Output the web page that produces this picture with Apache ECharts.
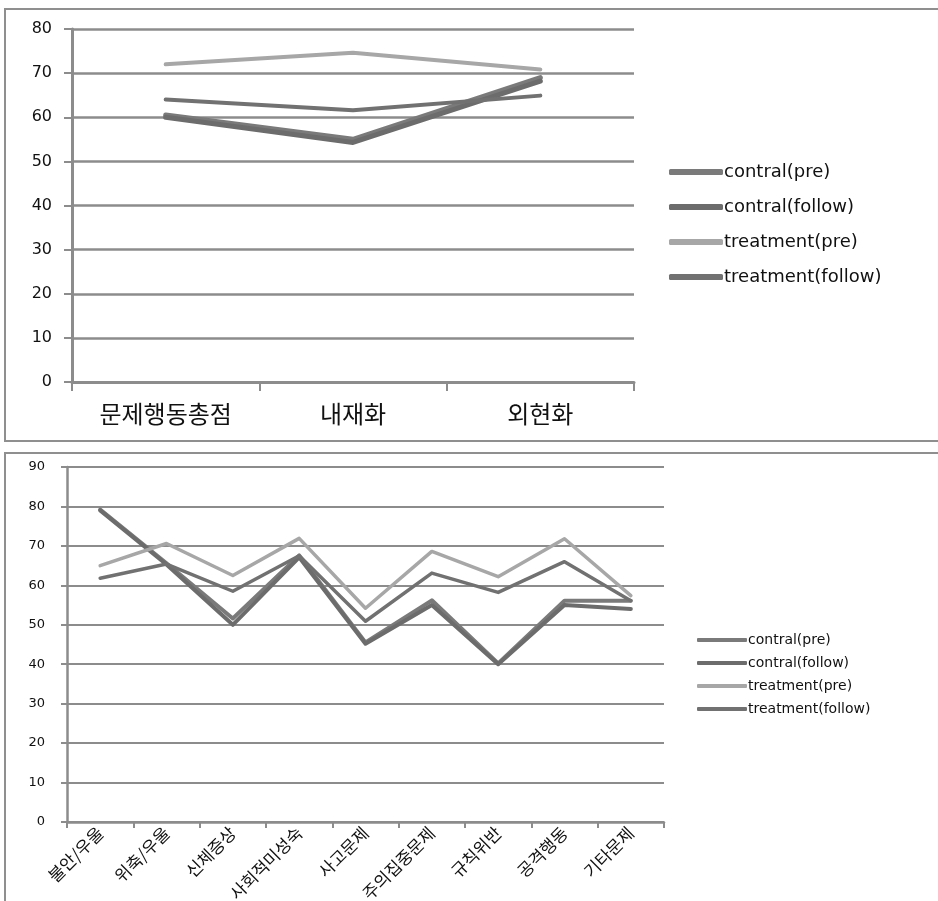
<!DOCTYPE html>
<html>
<head>
<meta charset="utf-8">
<script src="https://cdn.jsdelivr.net/npm/echarts@6/dist/echarts.min.js"></script>
<style>
  html, body { margin: 0; padding: 0; background: #fff; width: 938px; height: 901px; overflow: hidden; position: relative; }
  .panel { position: absolute; border: 2px solid #8f8f8f; background: #fff; }
  #top { left: 4px; top: 8px; width: 940px; height: 430px; }
  #bottom { left: 4px; top: 452px; width: 940px; height: 460px; }
</style>
</head>
<body>
<div id="top" class="panel"></div>
<div id="bottom" class="panel"></div>
<script>
// Series names shared by both panels
const seriesNames = ['contral(pre)', 'contral(follow)', 'treatment(pre)', 'treatment(follow)'];
const seriesColors = ['#7a7a7a', '#6c6c6c', '#a7a7a7', '#717171'];

// Upper panel: total score, internalizing, externalizing
const totalCategories = ['문제행동총점', '내재화', '외현화'];
const totalControlPre = [60.5, 55.0, 69.0];
const totalControlFollow = [60.0, 54.3, 68.2];
const totalTreatmentPre = [72.0, 74.6, 70.8];
const totalTreatmentFollow = [64.0, 61.6, 64.9];
const totalTicks = [0, 10, 20, 30, 40, 50, 60, 70, 80];

// Lower panel: subscales
const subCategories = ['불안/우울', '위축/우울', '신체증상', '사회적미성숙', '사고문제', '주의집중문제', '규칙위반', '공격행동', '기타문제'];
const subControlPre = [79.2, 65.6, 51.6, 67.6, 45.5, 56.2, 40.2, 56.1, 56.1];
const subControlFollow = [79.0, 65.3, 50.0, 67.1, 45.2, 55.0, 40.0, 55.0, 54.0];
const subTreatmentPre = [65.0, 70.6, 62.5, 71.9, 54.2, 68.6, 62.2, 71.8, 57.4];
const subTreatmentFollow = [61.8, 65.4, 58.5, 67.5, 50.9, 63.1, 58.2, 66.0, 56.1];
const subTicks = [0, 10, 20, 30, 40, 50, 60, 70, 80, 90];

const axisGray = '#8c8c8c';

function lineSeries(values, widths) {
  return values.map((data, i) => ({
    name: seriesNames[i],
    type: 'line',
    data: data,
    symbol: 'none',
    animation: false,
    lineStyle: { color: seriesColors[i], width: widths[i], cap: 'round', join: 'round' },
    itemStyle: { color: seriesColors[i] }
  }));
}

function buildOption(cfg) {
  return {
    animation: false,
    grid: cfg.grid,
    legend: {
      orient: 'vertical',
      left: cfg.legend.left,
      top: cfg.legend.top,
      itemGap: cfg.legend.gap,
      itemWidth: cfg.legend.itemWidth,
      itemHeight: cfg.legend.itemHeight,
      icon: 'roundRect',
      selectedMode: false,
      data: seriesNames,
      textStyle: { fontFamily: cfg.legend.font, fontSize: cfg.legend.size, color: '#111', padding: [0, 0, 0, -4] }
    },
    xAxis: {
      type: 'category',
      data: cfg.categories,
      boundaryGap: true,
      axisLine: { lineStyle: { color: axisGray, width: cfg.axisWidth } },
      axisTick: { show: true, length: cfg.xTick, lineStyle: { color: axisGray, width: 2 } },
      axisLabel: Object.assign({ color: '#111', interval: 0 }, cfg.xLabel)
    },
    yAxis: {
      type: 'value',
      min: cfg.ticks[0],
      max: cfg.ticks[cfg.ticks.length - 1],
      interval: cfg.ticks[1] - cfg.ticks[0],
      axisLine: { show: true, lineStyle: { color: axisGray, width: cfg.axisWidth } },
      axisTick: { show: true, length: cfg.yTick, lineStyle: { color: axisGray, width: 2 } },
      splitLine: { lineStyle: { color: axisGray, width: cfg.gridWidth } },
      axisLabel: Object.assign({ color: '#111' }, cfg.yLabel)
    },
    series: lineSeries(cfg.values, cfg.widths)
  };
}

const topChart = echarts.init(document.getElementById('top'), null, { renderer: 'canvas' });
topChart.setOption(buildOption({
  grid: { left: 66, top: 19, width: 562, height: 353, containLabel: false },
  legend: { left: 658, top: 148, gap: 17, itemWidth: 54, itemHeight: 6, font: 'DejaVu Sans', size: 18 },
  categories: totalCategories,
  ticks: totalTicks,
  values: [totalControlPre, totalControlFollow, totalTreatmentPre, totalTreatmentFollow],
  widths: [5, 5, 4, 4],
  axisWidth: 3,
  gridWidth: 2.5,
  xTick: 9,
  yTick: 8,
  xLabel: { fontFamily: 'Noto Sans CJK KR', fontSize: 24, margin: 20 },
  yLabel: { fontFamily: 'DejaVu Sans', fontSize: 16, margin: 20 }
}));

const bottomChart = echarts.init(document.getElementById('bottom'), null, { renderer: 'canvas' });
bottomChart.setOption(buildOption({
  grid: { left: 61, top: 13, width: 597, height: 355, containLabel: false },
  legend: { left: 686, top: 174, gap: 9, itemWidth: 50, itemHeight: 4, font: 'DejaVu Sans', size: 14 },
  categories: subCategories,
  ticks: subTicks,
  values: [subControlPre, subControlFollow, subTreatmentPre, subTreatmentFollow],
  widths: [4, 4, 3.5, 3.5],
  axisWidth: 2.5,
  gridWidth: 2,
  xTick: 6,
  yTick: 6,
  xLabel: { fontFamily: 'Noto Sans CJK KR', fontSize: 17, rotate: 45, margin: 8 },
  yLabel: { fontFamily: 'DejaVu Sans', fontSize: 13, margin: 22 }
}));
</script>
</body>
</html>
